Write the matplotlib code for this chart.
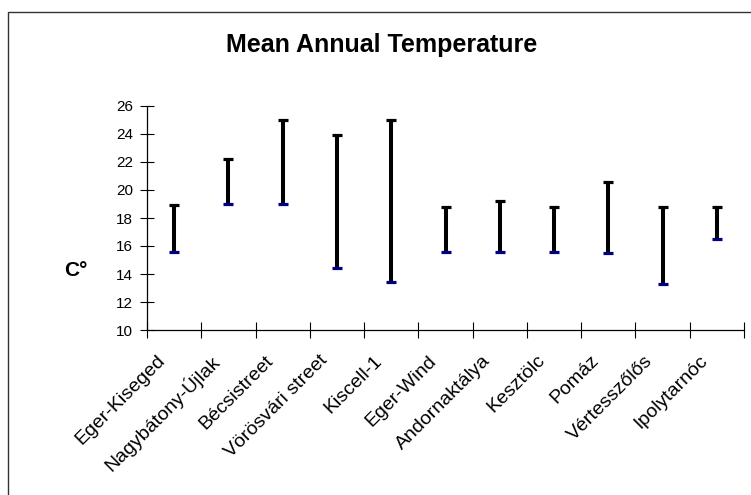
import matplotlib
matplotlib.use("Agg")
import matplotlib.pyplot as plt
from matplotlib.patches import Rectangle

plt.rcParams['font.family'] = ['Liberation Sans', 'DejaVu Sans']

sites = ["Eger-Kiseged", "Nagybátony-Újlak", "Bécsistreet", "Vörösvári street",
         "Kiscell-1", "Eger-Wind", "Andornaktálya", "Kesztölc", "Pomáz",
         "Vértesszőlős", "Ipolytarnóc"]
high = [18.9, 22.2, 25.0, 23.9, 25.0, 18.8, 19.2, 18.8, 20.6, 18.8, 18.8]
low = [15.6, 19.0, 19.0, 14.4, 13.4, 15.6, 15.6, 15.6, 15.5, 13.3, 16.5]
yticks = [10, 12, 14, 16, 18, 20, 22, 24, 26]

W, H = 751, 495
fig = plt.figure(figsize=(W / 100, H / 100), dpi=100)
ax = fig.add_axes([147 / W, 1 - 330 / H, (744 - 147) / W, (330 - 106) / H])

x = [i + 0.5 for i in range(len(sites))]
ax.vlines(x, low, high, color='black', linewidth=2.9, zorder=3)
ax.plot(x, high, linestyle='none', marker='_', markersize=6.5,
        markeredgewidth=2.3, color='black', zorder=4)
ax.plot(x, low, linestyle='none', marker='_', markersize=6.5,
        markeredgewidth=2.3, color='#000080', zorder=4)

ax.set_xlim(0, len(sites))
ax.set_ylim(10, 26)
ax.set_yticks(yticks)
ax.set_yticklabels([str(t) for t in yticks], fontsize=11)
ax.set_xticks(range(len(sites) + 1))
ax.set_xticklabels([])
ax.tick_params(axis='y', direction='inout', length=10, width=0.8, pad=5)
ax.tick_params(axis='x', direction='inout', length=12, width=0.8)
for s in ['top', 'right']:
    ax.spines[s].set_visible(False)
for s in ['left', 'bottom']:
    ax.spines[s].set_linewidth(0.9)

for xi, name in zip(x, sites):
    ax.annotate(name, xy=(xi, 10), xycoords='data', xytext=(-12, -28),
                textcoords='offset pixels', rotation=45, ha='right', va='center',
                rotation_mode='anchor', fontsize=14, annotation_clip=False)

fig.text(382 / W, 1 - 45 / H, "Mean Annual Temperature", ha='center', va='center',
         fontsize=18, fontweight='bold')
fig.text(76 / W, 1 - 270 / H, "C°", ha='center', va='center',
         fontsize=15, fontweight='bold')

fig.add_artist(Rectangle((8 / W, -0.2), 1.5, 1.2 - 12 / H, transform=fig.transFigure,
                         fill=False, edgecolor='#333333', linewidth=1.0))

fig.savefig("out.png", dpi=100)
